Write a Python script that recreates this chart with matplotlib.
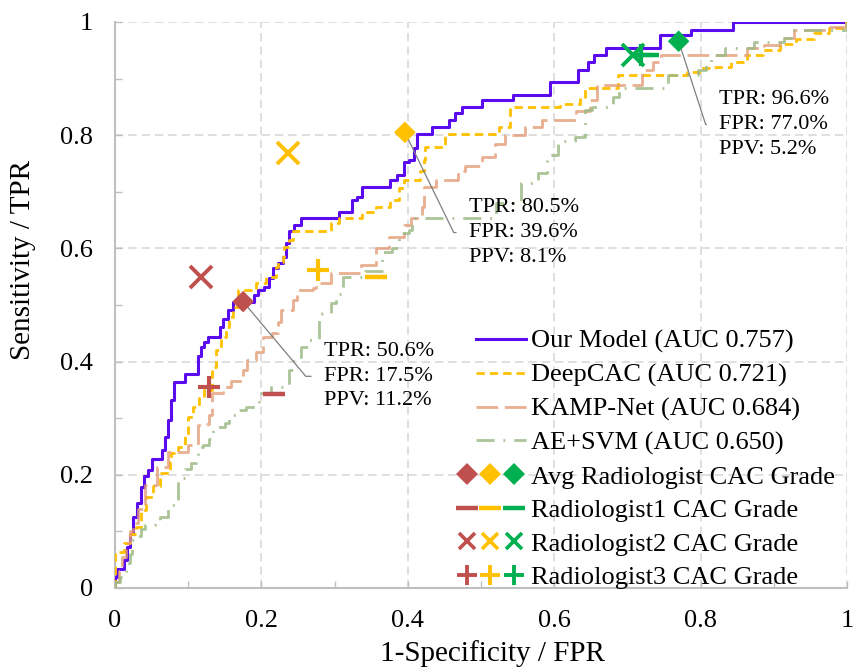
import numpy as np
import matplotlib
matplotlib.use("Agg")
import matplotlib.pyplot as plt
from matplotlib.lines import Line2D
from matplotlib.legend_handler import HandlerLine2D, HandlerTuple

plt.rcParams["font.family"] = ["Liberation Serif", "DejaVu Serif"]

# ROC curves (fpr, tpr), drawn as post steps
ours_fpr = [0.000, 0.000, 0.003, 0.012, 0.016, 0.020, 0.025, 0.030, 0.036, 0.040, 0.045, 0.050,
            0.064, 0.068, 0.072, 0.076, 0.080, 0.095, 0.113, 0.117, 0.122, 0.127, 0.143, 0.148,
            0.154, 0.161, 0.190, 0.195, 0.204, 0.210, 0.216, 0.222, 0.229, 0.234, 0.238, 0.245,
            0.254, 0.306, 0.324, 0.331, 0.338, 0.376, 0.385, 0.395, 0.401, 0.408, 0.413, 0.433,
            0.456, 0.465, 0.474, 0.501, 0.544, 0.594, 0.633, 0.646, 0.655, 0.671, 0.744, 0.787,
            0.844, 1.000]
ours_tpr = [0.000, 0.020, 0.034, 0.050, 0.073, 0.095, 0.126, 0.150, 0.179, 0.197, 0.208, 0.228,
            0.244, 0.267, 0.297, 0.332, 0.364, 0.378, 0.410, 0.426, 0.435, 0.444, 0.462, 0.475,
            0.491, 0.505, 0.518, 0.526, 0.532, 0.547, 0.565, 0.575, 0.585, 0.609, 0.630, 0.641,
            0.653, 0.665, 0.686, 0.690, 0.709, 0.721, 0.730, 0.753, 0.756, 0.777, 0.803, 0.815,
            0.827, 0.839, 0.850, 0.862, 0.871, 0.894, 0.915, 0.930, 0.942, 0.954, 0.977, 0.986,
            1.000, 1.000]

deep_fpr = [0.000, 0.000, 0.012, 0.020, 0.029, 0.036, 0.043, 0.052, 0.061, 0.075, 0.077, 0.086,
            0.095, 0.100, 0.107, 0.115, 0.122, 0.132, 0.138, 0.145, 0.152, 0.156, 0.161, 0.168,
            0.193, 0.206, 0.220, 0.222, 0.229, 0.231, 0.238, 0.243, 0.295, 0.306, 0.338, 0.356,
            0.376, 0.388, 0.395, 0.417, 0.422, 0.424, 0.451, 0.524, 0.540, 0.608, 0.635, 0.642,
            0.687, 0.782, 0.800, 0.819, 0.841, 0.864, 0.885, 0.909, 0.930, 0.955, 0.975, 0.998,
            1.000]
deep_tpr = [0.000, 0.064, 0.080, 0.095, 0.108, 0.138, 0.161, 0.180, 0.203, 0.223, 0.238, 0.250,
            0.270, 0.303, 0.320, 0.335, 0.350, 0.391, 0.420, 0.444, 0.462, 0.479, 0.497, 0.526,
            0.538, 0.550, 0.568, 0.576, 0.585, 0.603, 0.615, 0.630, 0.644, 0.653, 0.665, 0.674,
            0.686, 0.706, 0.721, 0.736, 0.756, 0.780, 0.803, 0.815, 0.850, 0.856, 0.868, 0.883,
            0.906, 0.912, 0.918, 0.921, 0.930, 0.942, 0.950, 0.962, 0.970, 0.980, 0.990, 1.000,
            1.000]

kamp_fpr = [0.000, 0.000, 0.005, 0.010, 0.015, 0.020, 0.025, 0.032, 0.041, 0.058, 0.073, 0.100,
            0.113, 0.125, 0.129, 0.132, 0.147, 0.159, 0.175, 0.181, 0.193, 0.202, 0.215, 0.222,
            0.227, 0.243, 0.249, 0.270, 0.274, 0.295, 0.336, 0.356, 0.374, 0.395, 0.404, 0.419,
            0.422, 0.438, 0.469, 0.478, 0.501, 0.519, 0.533, 0.560, 0.583, 0.630, 0.649, 0.658,
            0.720, 0.735, 0.746, 0.864, 0.887, 0.909, 0.927, 0.977, 0.998, 1.000]
kamp_tpr = [0.000, 0.011, 0.030, 0.055, 0.080, 0.100, 0.115, 0.140, 0.182, 0.214, 0.241, 0.252,
            0.288, 0.290, 0.306, 0.344, 0.356, 0.365, 0.385, 0.403, 0.417, 0.444, 0.450, 0.470,
            0.491, 0.509, 0.526, 0.530, 0.538, 0.556, 0.571, 0.600, 0.621, 0.641, 0.653, 0.674,
            0.709, 0.721, 0.736, 0.745, 0.762, 0.785, 0.800, 0.815, 0.827, 0.842, 0.862, 0.889,
            0.915, 0.930, 0.942, 0.954, 0.960, 0.971, 0.986, 0.992, 1.000, 1.000]

ae_fpr = [0.000, 0.000, 0.007, 0.015, 0.020, 0.023, 0.030, 0.036, 0.041, 0.054, 0.061, 0.073,
          0.084, 0.086, 0.091, 0.095, 0.104, 0.111, 0.113, 0.120, 0.129, 0.134, 0.150, 0.156,
          0.170, 0.179, 0.197, 0.213, 0.231, 0.238, 0.243, 0.254, 0.265, 0.279, 0.283, 0.295,
          0.302, 0.311, 0.342, 0.365, 0.379, 0.388, 0.401, 0.406, 0.520, 0.555, 0.578, 0.590,
          0.605, 0.628, 0.642, 0.651, 0.680, 0.689, 0.755, 0.796, 0.807, 0.814, 0.834, 0.873,
          0.914, 0.923, 1.000]
ae_tpr = [0.000, 0.010, 0.020, 0.044, 0.060, 0.085, 0.091, 0.105, 0.111, 0.114, 0.126, 0.147,
          0.150, 0.191, 0.194, 0.211, 0.220, 0.232, 0.250, 0.253, 0.264, 0.285, 0.291, 0.306,
          0.314, 0.320, 0.344, 0.356, 0.362, 0.385, 0.409, 0.426, 0.438, 0.473, 0.485, 0.503,
          0.520, 0.550, 0.560, 0.594, 0.600, 0.627, 0.633, 0.653, 0.680, 0.715, 0.733, 0.765,
          0.790, 0.797, 0.844, 0.850, 0.868, 0.883, 0.906, 0.915, 0.930, 0.942, 0.954, 0.965,
          0.971, 0.986, 1.000]

model_labels = ["Our Model (AUC 0.757)", "DeepCAC (AUC 0.721)",
                "KAMP-Net (AUC 0.684)", "AE+SVM (AUC 0.650)"]

# radiologist operating points: [red, yellow, green]
avg_fpr = [0.175, 0.396, 0.770]
avg_tpr = [0.506, 0.805, 0.966]
r1_fpr = [0.217, 0.356, 0.728]
r1_tpr = [0.342, 0.550, 0.942]
r2_fpr = [0.117, 0.236, 0.708]
r2_tpr = [0.550, 0.768, 0.942]
r3_fpr = [0.128, 0.278, 0.718]
r3_tpr = [0.355, 0.562, 0.942]
avg_ppv = [11.2, 8.1, 5.2]
rad_labels = ["Avg Radiologist CAC Grade", "Radiologist1 CAC Grade",
              "Radiologist2 CAC Grade", "Radiologist3 CAC Grade"]

rad_colors = ["#C0504D", "#FFC000", "#00B050"]
note_pos = [(0.285, 0.374), (0.483, 0.628), (0.825, 0.819)]
note_angle = [-50, -64, -72]


class RightLine(HandlerLine2D):
    # shorter line sample, right-aligned like the original legend
    def get_xdata(self, legend, xdescent, ydescent, width, height, fontsize):
        x0 = -xdescent + 0.3 * width
        x1 = -xdescent + width
        return np.array([x0, x1]), np.array([(x0 + x1) / 2])


fig = plt.figure(figsize=(8.54, 6.70), dpi=100)
ax = fig.add_axes([115 / 854, 1 - 588 / 670, 732 / 854, 566 / 670])

l_ours, = ax.step(ours_fpr, ours_tpr, where="post", color="#5A0BEF", lw=2.2, zorder=3)
l_deep, = ax.step(deep_fpr, deep_tpr, where="post", color="#FFC000", lw=2.0,
                  dashes=(3, 1.8), zorder=3)
l_kamp, = ax.step(kamp_fpr, kamp_tpr, where="post", color="#E39B74", lw=2.0, alpha=0.8,
                  dashes=(7.8, 2.4), zorder=3)
l_ae, = ax.step(ae_fpr, ae_tpr, where="post", color="#9DBA86", lw=2.0, alpha=0.85,
                dashes=(6.5, 3.2, 0.7, 3.2), zorder=3)

ax.scatter(avg_fpr, avg_tpr, marker="D", s=11 ** 2, c=rad_colors, lw=0, zorder=6)
for i, c in enumerate(rad_colors):
    ax.plot(r1_fpr[i], r1_tpr[i], marker="_", ms=16, mew=3.2, color=c, ls="none", zorder=5)
    ax.plot(r2_fpr[i], r2_tpr[i], marker="x", ms=16.5, mew=2.8, color=c, ls="none", zorder=5)
    ax.plot(r3_fpr[i], r3_tpr[i], marker="+", ms=16, mew=3, color=c, ls="none", zorder=5)

for i in range(3):
    txt = "TPR: %.1f%%\nFPR: %.1f%%\nPPV: %.1f%%" % (avg_tpr[i] * 100, avg_fpr[i] * 100, avg_ppv[i])
    ax.annotate(txt, xy=(avg_fpr[i], avg_tpr[i]), xytext=note_pos[i], textcoords="data",
                ha="left", va="center", fontsize=16, linespacing=1.4, zorder=4,
                arrowprops=dict(arrowstyle="-", color="#7F7F7F", lw=0.9, relpos=(0, 0.5),
                                shrinkA=7, shrinkB=0,
                                connectionstyle="angle,angleA=0,angleB=%d,rad=0" % note_angle[i]))

ax.set_xlim(0, 1)
ax.set_ylim(0, 1)
ticks = np.linspace(0, 1, 6)
tick_labels = ["0", "0.2", "0.4", "0.6", "0.8", "1"]
ax.set_xticks(ticks)
ax.set_xticklabels(tick_labels)
ax.set_yticks(ticks)
ax.set_yticklabels(tick_labels)
ax.set_xticks(np.linspace(0.1, 0.9, 5), minor=True)
ax.set_yticks(np.linspace(0.1, 0.9, 5), minor=True)
ax.tick_params(which="both", direction="in", length=5, width=1, color="#BFBFBF")
ax.tick_params(axis="both", which="major", labelsize=19, pad=16)
ax.grid(True, which="major", color="#D9D9D9", lw=1.2, dashes=(5, 3))
ax.set_axisbelow(True)
for s in ["top", "right"]:
    ax.spines[s].set_visible(False)
for s in ["left", "bottom"]:
    ax.spines[s].set_color("#BFBFBF")
    ax.spines[s].set_linewidth(1.5)

ax.set_xlabel("1-Specificity / FPR", fontsize=21)
ax.set_ylabel("Sensitivity / TPR", fontsize=21)
ax.xaxis.set_label_coords(0.516, -0.092)
ax.yaxis.set_label_coords(-0.108, 0.58)

# legend: model curves then radiologist marker triples
mk = [dict(marker="D", ms=11, mew=0), dict(marker="_", ms=16, mew=3.2),
      dict(marker="x", ms=12, mew=2.6), dict(marker="+", ms=14, mew=2.8)]
rad_handles = [tuple(Line2D([], [], ls="none", color=c, mfc=c, mec=c, **m) for c in rad_colors)
               for m in mk]
line_handles = [l_ours, l_deep, l_kamp, l_ae]
hmap = {h: RightLine() for h in line_handles}
hmap[tuple] = HandlerTuple(ndivide=None, pad=0)
ax.legend(line_handles + rad_handles, model_labels + rad_labels, handler_map=hmap,
          loc="lower left", bbox_to_anchor=(0.464, -0.002), frameon=False, fontsize=19,
          handlelength=2.7, handletextpad=0.2, labelspacing=0.38, borderpad=0,
          borderaxespad=0)

fig.savefig("out.png", dpi=100)
